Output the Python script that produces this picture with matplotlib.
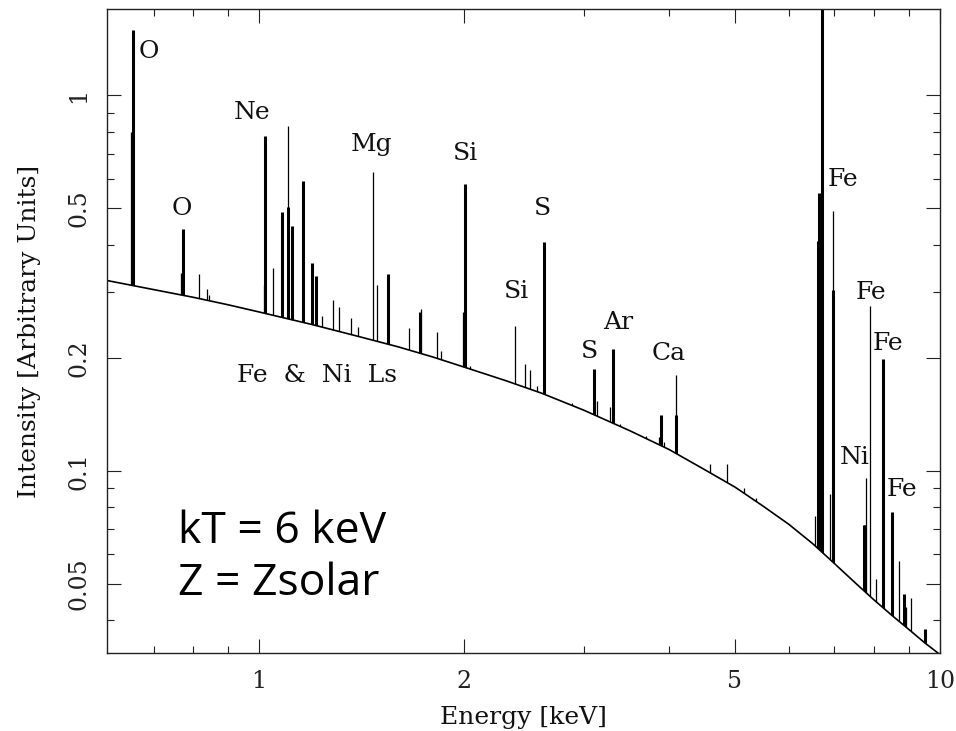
import numpy as np
import matplotlib.pyplot as plt
from matplotlib.ticker import FixedLocator, FixedFormatter, NullFormatter

plt.rcParams['font.family'] = 'DejaVu Serif'

# continuum (keV, intensity)
cont_energy = [0.6, 0.7, 0.8, 0.9, 1.0, 1.2, 1.4, 1.6, 1.8, 2.0, 2.3, 2.6, 3.0,
               3.5, 4.0, 4.5, 5.0, 5.5, 6.0, 6.5, 6.8, 7.0, 7.5, 8.0, 8.5,
               9.0, 9.5, 10.0]
cont_level = [0.321, 0.304, 0.290, 0.277, 0.265, 0.245, 0.228, 0.214, 0.201,
              0.189, 0.174, 0.161, 0.145, 0.128, 0.114, 0.101, 0.0905, 0.0805,
              0.0720, 0.0640, 0.0594, 0.0566, 0.0504, 0.0453, 0.0412, 0.0378,
              0.0348, 0.0324]

# strong lines (drawn heavy)
strong_energy = [0.653, 0.774, 1.021, 1.080, 1.104, 1.119, 1.162, 1.195, 1.213,
                 1.549, 1.723, 2.006, 2.620, 3.104, 3.310, 3.890, 4.100,
                 6.610, 6.640, 6.700, 6.965, 7.740, 7.760, 8.240, 8.500, 8.870,
                 9.520]
strong_peak = [1.49, 0.44, 0.78, 0.49, 0.506, 0.45, 0.59, 0.357, 0.33,
               0.335, 0.265, 0.58, 0.406, 0.187, 0.211, 0.141, 0.141,
               0.41, 0.55, 2.0, 0.303, 0.0718, 0.0718, 0.198, 0.0778, 0.047,
               0.0379]

# weak lines (drawn thin)
weak_energy = [0.648, 0.768, 0.815, 0.839, 0.845, 1.016, 1.049, 1.104, 1.236,
               1.286, 1.312, 1.367, 1.397, 1.472, 1.490, 1.659, 1.730, 1.823,
               1.853, 1.995, 2.040, 2.376, 2.459, 2.497, 2.560, 2.880, 3.140,
               3.280, 3.390, 3.700, 3.870, 3.930, 4.100, 4.596, 4.863, 5.160,
               5.360, 6.550, 6.890, 6.975, 7.790, 7.890, 8.050, 8.700, 8.920,
               9.060]
weak_peak = [0.80, 0.337, 0.334, 0.305, 0.294, 0.313, 0.346, 0.827, 0.258,
             0.285, 0.274, 0.255, 0.242, 0.627, 0.313, 0.240, 0.27, 0.235,
             0.208, 0.265, 0.19, 0.243, 0.193, 0.186, 0.168, 0.152, 0.153,
             0.148, 0.133, 0.124, 0.123, 0.119, 0.180, 0.104, 0.104, 0.0898,
             0.0845, 0.076, 0.087, 0.491, 0.0957, 0.275, 0.0516, 0.0576, 0.0434,
             0.0458]

label_text = ['O', 'O', 'Ne', 'Mg', 'Si', 'S', 'Si', 'S', 'Ar', 'Ca',
              'Fe', 'Fe', 'Fe', 'Ni', 'Fe', 'Fe  &  Ni  Ls']
label_energy = [0.690, 0.771, 0.977, 1.465, 2.007, 2.612, 2.385, 3.053, 3.367,
                4.0, 7.20, 7.92, 8.39, 7.50, 8.80, 1.217]
label_level = [1.308, 0.499, 0.899, 0.739, 0.699, 0.499, 0.2996, 0.2085, 0.249,
               0.206, 0.596, 0.298, 0.219, 0.1088, 0.0894, 0.179]

fig = plt.figure(figsize=(9.56, 7.31), dpi=100)
ax = fig.add_axes([0.1119, 0.1067, 0.8713, 0.881])
ax.set_xscale('log')
ax.set_yscale('log')
ax.set_xlim(0.598, 10)
ax.set_ylim(0.0327, 1.70)

# lines start below the plot, the white fill under the continuum hides the rest
floor = 0.01
ax.vlines(weak_energy, floor, weak_peak, color='k', lw=0.9, zorder=1)
ax.vlines(strong_energy, floor, strong_peak, color='k', lw=2.2, zorder=1)
ax.fill_between(cont_energy, floor, cont_level, color='white', lw=0, zorder=1.5)
ax.plot(cont_energy, cont_level, color='k', lw=1.2, zorder=2)

for txt, e, v in zip(label_text, label_energy, label_level):
    ax.text(e, v, txt, ha='center', va='center', fontsize=18, color='#111')

ax.text(0.0852, 0.1708, 'kT = 6 keV', transform=ax.transAxes,
        family='Open Sans', fontsize=32, va='baseline')
ax.text(0.0852, 0.0901, 'Z = Zsolar', transform=ax.transAxes,
        family='Open Sans', fontsize=32, va='baseline')

ax.xaxis.set_major_locator(FixedLocator([1, 2, 5, 10]))
ax.xaxis.set_major_formatter(FixedFormatter(['1', '2', '5', '10']))
ax.xaxis.set_minor_locator(FixedLocator([0.7, 0.8, 0.9, 3, 4, 6, 7, 8, 9]))
ax.xaxis.set_minor_formatter(NullFormatter())
ax.yaxis.set_major_locator(FixedLocator([0.05, 0.1, 0.2, 0.5, 1]))
ax.yaxis.set_major_formatter(FixedFormatter(['0.05', '0.1', '0.2', '0.5', '1']))
ax.yaxis.set_minor_locator(FixedLocator([0.04, 0.06, 0.07, 0.08, 0.09, 0.3, 0.4,
                                         0.6, 0.7, 0.8, 0.9]))
ax.yaxis.set_minor_formatter(NullFormatter())

ax.set_axisbelow(False)
ax.tick_params(which='both', direction='in', top=True, right=True, width=0.8,
               colors='#222')
ax.tick_params(which='major', length=10, labelsize=17, pad=12)
ax.tick_params(which='minor', length=5)
ax.tick_params(axis='y', labelrotation=90)
for lab in ax.get_yticklabels():
    lab.set_va('center')
for sp in ax.spines.values():
    sp.set_linewidth(1.0)
    sp.set_color('#222')

ax.set_xlabel('Energy [keV]', fontsize=18, color='#111')
ax.set_ylabel('Intensity [Arbitrary Units]', fontsize=18, color='#111')
ax.xaxis.set_label_coords(0.5, -0.082)
ax.yaxis.set_label_coords(-0.079, 0.5)

fig.savefig('out.png', dpi=100)
